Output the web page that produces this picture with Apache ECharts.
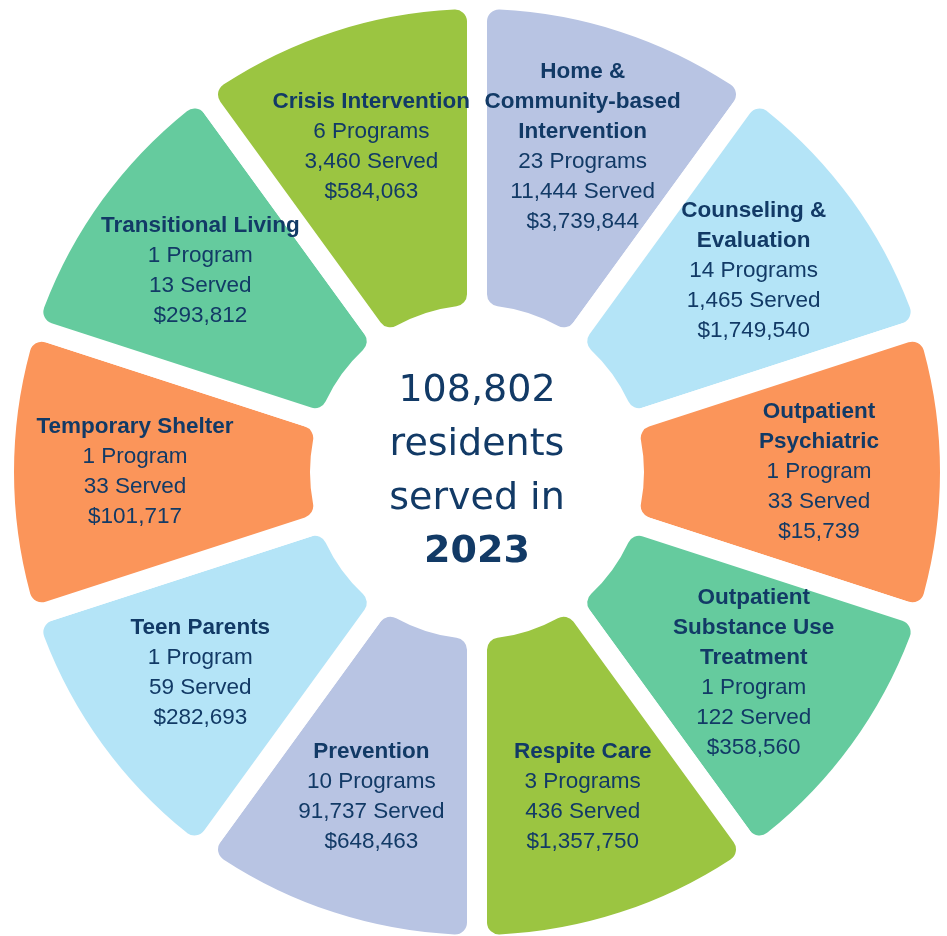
<!DOCTYPE html>
<html>
<head>
<meta charset="utf-8">
<script src="https://cdn.jsdelivr.net/npm/echarts@6/dist/echarts.min.js"></script>
<style>
  html, body { margin: 0; padding: 0; background: #fff; }
  #programChart { width: 947px; height: 936px; }
</style>
</head>
<body>
<div id="programChart"></div>
<script>
// clockwise from 12 o'clock
var programNames = [
  "Home &\nCommunity-based\nIntervention",
  "Counseling &\nEvaluation",
  "Outpatient\nPsychiatric",
  "Outpatient\nSubstance Use\nTreatment",
  "Respite Care",
  "Prevention",
  "Teen Parents",
  "Temporary Shelter",
  "Transitional Living",
  "Crisis Intervention"
];
var programCounts = [23, 14, 1, 1, 3, 10, 1, 1, 1, 6];
var servedCounts = [11444, 1465, 33, 122, 436, 91737, 59, 33, 13, 3460];
var fundingAmounts = [3739844, 1749540, 15739, 358560, 1357750, 648463, 282693, 101717, 293812, 584063];
var sliceValues = [1, 1, 1, 1, 1, 1, 1, 1, 1, 1]; // all slices same size
var totalResidents = 108802;
var reportYear = 2023;

var sliceColors = ["#b8c4e3", "#b4e4f7", "#fb955a", "#65cb9e", "#9bc541",
                   "#b8c4e3", "#b4e4f7", "#fb955a", "#65cb9e", "#9bc541"];
var TEXT_COLOR = "#123a66";

function withCommas(n) {
  return String(n).replace(/\B(?=(\d{3})+(?!\d))/g, ",");
}

function labelText(i) {
  var lines = programNames[i].split("\n").map(function (l) {
    return "{t|" + l + "}";
  });
  lines.push("{v|" + programCounts[i] + (programCounts[i] === 1 ? " Program" : " Programs") + "}");
  lines.push("{v|" + withCommas(servedCounts[i]) + " Served}");
  lines.push("{v|$" + withCommas(fundingAmounts[i]) + "}");
  return lines.join("\n");
}

function renderProgramChart() {
  var dom = document.getElementById("programChart");
  var myChart = echarts.init(dom, null, { renderer: "canvas" });

  var sliceData = [];
  var labelData = [];
  for (let i = 0; i < programNames.length; i++) {
    sliceData.push({
      name: programNames[i],
      value: sliceValues[i],
      itemStyle: { color: sliceColors[i] }
    });
    labelData.push({ name: programNames[i], value: sliceValues[i] });
  }

  var option = {
    animation: false,
    title: {
      text: "{a|" + withCommas(totalResidents) + "}\n{a|residents}\n{a|served in}\n{b|" + reportYear + "}",
      left: 477,
      top: 364,
      padding: 0,
      textAlign: "center",
      textStyle: {
        fontWeight: "normal",
        rich: {
          a: { fontFamily: "DejaVu Sans", fontSize: 38, lineHeight: 54, fontWeight: "normal", color: TEXT_COLOR, align: "center" },
          b: { fontFamily: "DejaVu Sans", fontSize: 38, lineHeight: 52, fontWeight: "bold", color: TEXT_COLOR, align: "center" }
        }
      }
    },
    series: [
      {
        name: "slices",
        type: "pie",
        silent: true,
        center: [477, 472],
        radius: [157, 473],
        startAngle: 90,
        clockwise: true,
        avoidLabelOverlap: false,
        label: { show: false },
        labelLine: { show: false },
        itemStyle: {
          borderColor: "#fff",
          borderWidth: 20,
          borderRadius: 22
        },
        emphasis: { disabled: true },
        data: sliceData
      },
      {
        name: "labels",
        type: "pie",
        silent: true,
        center: [477, 472],
        radius: [215, 463],
        startAngle: 90,
        clockwise: true,
        avoidLabelOverlap: false,
        itemStyle: { color: "rgba(0,0,0,0)" },
        labelLine: { show: false },
        label: {
          show: true,
          position: "inside",
          formatter: function (p) {
            return labelText(p.dataIndex);
          },
          rich: {
            t: { fontFamily: "Liberation Sans", fontSize: 22.5, fontWeight: "bold", lineHeight: 30, color: TEXT_COLOR, align: "center" },
            v: { fontFamily: "Liberation Sans", fontSize: 22.5, lineHeight: 30, color: TEXT_COLOR, align: "center" }
          }
        },
        emphasis: { disabled: true },
        data: labelData
      }
    ]
  };

  myChart.setOption(option);
  window.addEventListener("resize", myChart.resize);
}

renderProgramChart();
</script>
</body>
</html>
